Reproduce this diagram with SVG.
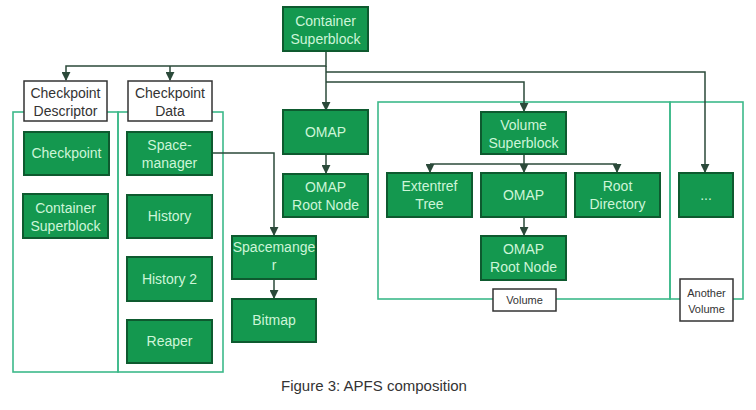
<svg xmlns="http://www.w3.org/2000/svg" width="756" height="410" viewBox="0 0 756 410">
<defs>
<marker id="ah" viewBox="0 0 10 10" refX="9" refY="5" markerWidth="9" markerHeight="9" markerUnits="userSpaceOnUse" orient="auto">
<path d="M0,0 L10,5 L0,10 z" fill="#2b4a3a"/>
</marker>
<style>
.n rect{fill:#14984f;stroke:#0e5a2f;stroke-width:2}
.n text{fill:#cdf5d8;font-family:"Liberation Sans",Arial,sans-serif;font-size:14px;text-anchor:middle}
.l rect{fill:#fff;stroke:#333;stroke-width:1.5}
.l text{fill:#333;font-family:"Liberation Sans",Arial,sans-serif;font-size:14px;text-anchor:middle}
.ls text{font-size:11px}
.c{fill:none;stroke:#3db98a;stroke-width:1.6}
.e path{fill:none;stroke:#2b4a3a;stroke-width:1.5}
.cap{fill:#333;font-family:"Liberation Sans",Arial,sans-serif;font-size:15px;text-anchor:middle}
</style>
</defs>
<rect width="756" height="410" fill="#fff"/>

<g id="containers">
<rect class="c" x="13" y="112" width="105" height="260"/>
<rect class="c" x="118" y="112" width="105" height="260"/>
<rect class="c" x="378" y="102" width="292" height="197"/>
<rect class="c" x="670" y="102" width="73" height="197"/>
</g>

<g class="e" id="connectors">
<path d="M326,51 V66 H66 V80" marker-end="url(#ah)"/>
<path d="M170,66 V80" marker-end="url(#ah)"/>
<path d="M326,66 V110" marker-end="url(#ah)"/>
<path d="M326,72 H705 V172" marker-end="url(#ah)"/>
<path d="M326,82 H524 V111" marker-end="url(#ah)"/>
<path d="M326,155 V173" marker-end="url(#ah)"/>
<path d="M212,153 H274 V235" marker-end="url(#ah)"/>
<path d="M274,280 V298" marker-end="url(#ah)"/>
<path d="M430,164 H617"/>
<path d="M430,164 V172" marker-end="url(#ah)"/>
<path d="M524,155 V172" marker-end="url(#ah)"/>
<path d="M617,164 V172" marker-end="url(#ah)"/>
<path d="M524,218 V235" marker-end="url(#ah)"/>
</g>

<g class="n" id="container-superblock"><rect x="283" y="7" width="85" height="44"/><text x="325.5" y="26">Container</text><text x="325.5" y="44">Superblock</text></g>

<g class="l" id="checkpoint-descriptor"><rect x="24" y="81" width="83" height="40"/><text x="65.5" y="98">Checkpoint</text><text x="65.5" y="116">Descriptor</text></g>
<g class="l" id="checkpoint-data"><rect x="128" y="81" width="84" height="40"/><text x="170" y="98">Checkpoint</text><text x="170" y="116">Data</text></g>

<g class="n" id="checkpoint"><rect x="24" y="132" width="85" height="43"/><text x="66.5" y="158">Checkpoint</text></g>
<g class="n" id="cp-container-superblock"><rect x="23" y="194" width="85" height="44"/><text x="65.5" y="213">Container</text><text x="65.5" y="231">Superblock</text></g>

<g class="n" id="space-manager"><rect x="127" y="132" width="85" height="43"/><text x="169.5" y="150">Space-</text><text x="169.5" y="168">manager</text></g>
<g class="n" id="history"><rect x="127" y="195" width="85" height="43"/><text x="169.5" y="221">History</text></g>
<g class="n" id="history2"><rect x="127" y="257" width="85" height="44"/><text x="169.5" y="284">History 2</text></g>
<g class="n" id="reaper"><rect x="127" y="320" width="85" height="43"/><text x="169.5" y="346">Reaper</text></g>

<g class="n" id="omap"><rect x="283" y="110" width="85" height="44"/><text x="325.5" y="137">OMAP</text></g>
<g class="n" id="omap-root"><rect x="283" y="174" width="85" height="43"/><text x="325.5" y="192">OMAP</text><text x="325.5" y="210">Root Node</text></g>

<g class="n" id="spacemanager"><rect x="232" y="236" width="84" height="43"/><text x="274" y="252">Spacemange</text><text x="274" y="270">r</text></g>
<g class="n" id="bitmap"><rect x="232" y="299" width="84" height="43"/><text x="274" y="325">Bitmap</text></g>

<g class="n" id="volume-superblock"><rect x="481" y="112" width="85" height="42"/><text x="523.5" y="130">Volume</text><text x="523.5" y="148">Superblock</text></g>
<g class="n" id="extentref"><rect x="387" y="173" width="85" height="44"/><text x="429.5" y="191">Extentref</text><text x="429.5" y="209">Tree</text></g>
<g class="n" id="vol-omap"><rect x="481" y="173" width="85" height="44"/><text x="523.5" y="200">OMAP</text></g>
<g class="n" id="root-directory"><rect x="575" y="173" width="85" height="44"/><text x="617.5" y="191">Root</text><text x="617.5" y="209">Directory</text></g>
<g class="n" id="ellipsis"><rect x="679" y="173" width="54" height="44"/><text x="706" y="200">...</text></g>
<g class="n" id="vol-omap-root"><rect x="481" y="236" width="85" height="44"/><text x="523.5" y="254">OMAP</text><text x="523.5" y="272">Root Node</text></g>

<g class="l ls" id="volume-label"><rect x="493" y="289" width="63" height="22"/><text x="524.5" y="304">Volume</text></g>
<g class="l ls" id="another-volume-label"><rect x="680" y="279" width="53" height="42"/><text x="706.5" y="297">Another</text><text x="706.5" y="313">Volume</text></g>

<text class="cap" x="374" y="391">Figure 3: APFS composition</text>
</svg>
